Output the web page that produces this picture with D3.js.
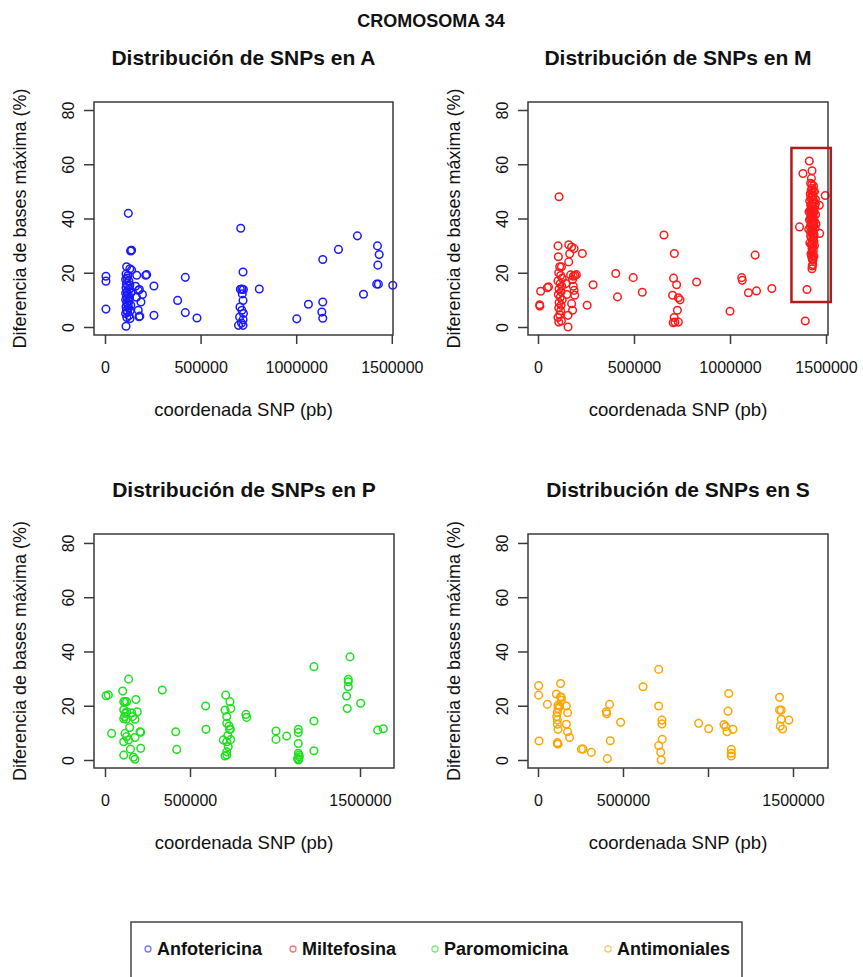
<!DOCTYPE html>
<html>
<head>
<meta charset="utf-8">
<script src="https://cdn.jsdelivr.net/npm/d3@7"></script>
<style>
  html, body { margin: 0; padding: 0; background: #fff; }
  svg { display: block; font-family: "Liberation Sans", Arial, Helvetica, sans-serif; }
</style>
</head>
<body>
<svg id="chart" width="863" height="977"></svg>
<script>
// ---------------- DATA ----------------
const mainTitle = "CROMOSOMA 34";
const panelTitles = ["Distribución de SNPs en A", "Distribución de SNPs en M", "Distribución de SNPs en P", "Distribución de SNPs en S"];
const seriesNames = ["Anfotericina", "Miltefosina", "Paromomicina", "Antimoniales"];
const seriesColors = ["#1a1aff", "#ff1a1a", "#1fe01f", "#ffa500"];
const xAxisTitle = "coordenada SNP (pb)";
const yAxisTitle = "Diferencia de bases máxima (%)";
const xTicks = [0, 500000, 1000000, 1500000];
const yTicks = [0, 20, 40, 60, 80];
// labels shown for x ticks (empty = label dropped by R because of overlap)
const xTickLabelsTop = ["0", "500000", "1000000", "1500000"];
const xTickLabelsBottom = ["0", "500000", "", "1500000"];
const yTickLabels = ["0", "20", "40", "60", "80"];

// [SNP coordinate (pb), max base difference (%)]
const anfotericina = [
  [5000,18.7],[5000,16.9],[5000,6.6],
  [122000,41.9],[137000,28.3],[139000,28.3],[134000,28.0],
  [113000,22.2],[130000,21.5],[139000,21.0],
  [110000,19.5],[120000,19.0],[108000,17.5],[125000,17.0],[112000,16.0],[118000,15.2],[110000,14.5],[128000,14.0],
  [115000,13.0],[108000,12.5],[122000,12.0],[112000,11.2],[118000,10.5],[108000,10.0],[126000,9.5],[114000,9.0],
  [120000,8.2],[110000,7.5],[124000,7.0],[112000,6.2],[118000,5.5],[108000,5.0],[126000,4.2],[114000,3.5],
  [110000,0.3],[131000,3.1],[135000,12.5],[135000,8.0],[130000,15.5],[116000,18.0],[128000,10.8],[132000,6.0],
  [166000,19.1],[213000,19.1],[218000,19.3],[174000,13.5],[180000,13.8],[196000,12.0],[188000,9.2],[182000,4.0],
  [178000,3.8],[174000,6.2],[165000,11.0],[160000,15.0],
  [256000,15.1],[256000,4.3],[380000,9.8],[420000,18.3],[420000,5.3],[481000,3.3],
  [710000,36.4],[722000,20.3],[708000,13.9],[716000,14.0],[724000,13.8],[718000,12.2],[722000,9.8],[706000,7.4],
  [716000,6.2],[724000,5.0],[704000,3.7],[722000,2.7],[698000,0.6],[722000,0.6],[714000,1.5],
  [807000,14.0],[1003000,3.0],[1064000,8.4],[1139000,24.9],[1139000,9.2],[1134000,5.5],[1139000,3.2],
  [1221000,28.6],[1320000,33.6],[1352000,12.1],[1425000,29.9],[1434000,26.7],[1427000,22.8],[1421000,15.8],
  [1430000,15.8],[1505000,15.4]
];
const miltefosina = [
  [8700,8.2],[9500,7.7],[13900,13.2],[48700,14.5],[55000,14.8],
  [109600,48.0],[104400,29.9],[106000,25.9],[113000,22.2],[122000,22.2],[108000,20.0],[118000,19.0],[126000,18.0],
  [104000,17.0],[115000,16.0],[124000,15.0],[110000,14.0],[120000,13.0],[106000,12.0],[116000,11.0],[126000,10.0],
  [110000,9.0],[120000,8.0],[108000,7.0],[118000,6.0],[113000,4.5],[104000,3.5],[108000,1.8],[122000,2.2],
  [156600,0.0],[156600,4.3],
  [160000,30.3],[175000,29.5],[188000,28.9],[165000,27.0],[160000,24.0],[170000,19.2],[184000,18.7],[193000,19.0],
  [200000,19.3],[180000,17.5],[184000,15.0],[188000,13.5],[191000,11.7],[175000,8.6],[180000,6.2],[145000,16.0],[150000,12.0],
  [231000,27.1],[256000,8.0],[287000,15.6],[405000,19.7],[414000,11.1],[496000,18.2],[543000,12.8],
  [656000,33.9],[710000,27.1],[706000,18.0],[701000,11.7],[722000,15.6],[731000,10.8],[740000,10.0],[726000,6.2],
  [709000,3.5],[713000,1.8],[731000,1.8],[704000,1.6],
  [826000,16.6],[1000000,5.8],[1061000,18.2],[1064000,17.2],[1096000,12.6],[1131000,26.5],[1138000,13.3],[1218000,14.2],
  [1362000,36.9],[1380000,56.6],[1392000,2.2],[1401000,13.8],[1413000,61.2],[1427000,57.6],[1424000,54.8],
  [1427000,21.5],[1432000,24.6],[1496000,48.5],[1465000,44.9],[1467000,34.5],
  [1420000,53],[1435000,52],[1428000,51],[1440000,50],[1418000,49],[1432000,48.5],[1425000,48],[1445000,47],
  [1415000,46.5],[1437000,46],[1428000,45.5],[1420000,45],[1442000,44.5],[1432000,44],[1424000,43.5],[1417000,43],
  [1438000,42.5],[1429000,42],[1446000,41.5],[1421000,41],[1434000,40.5],[1426000,40],[1414000,39.5],[1440000,39],
  [1430000,38.5],[1422000,38],[1436000,37.5],[1418000,37],[1443000,36.5],[1427000,36],[1433000,35.5],[1420000,35],
  [1438000,34],[1425000,33],[1430000,32],[1416000,31],[1440000,30],[1427000,29],[1434000,28],[1422000,27],
  [1437000,26],[1429000,25],[1431000,23],[1428000,22.5],[1445000,45.5],[1412000,42.5],[1448000,38],[1410000,36],
  [1423000,50.5],[1437000,31.5],
  [1426000,49.5],[1433000,47],[1421000,47.5],[1430000,46],[1424000,44.5],[1436000,43],[1427000,43],[1431000,41.5],
  [1419000,40],[1428000,39],[1435000,38.5],[1424000,37.5],[1431000,37],[1426000,35],[1432000,34],[1420000,33.5],
  [1435000,33],[1428000,31],[1424000,30.5],[1432000,29.5],[1429000,27.5],[1425000,26],[1433000,26.5],[1430000,44.5],
  [1427000,41],[1433000,40],[1422000,42],[1429000,48.5],[1434000,50],[1426000,52.5]
];
const paromomicina = [
  [5900,23.7],[19600,24.0],[39000,9.8],[104000,25.4],[139000,29.8],
  [110000,21.5],[118000,21.5],[127000,21.5],[110000,18.5],[120000,17.2],[127000,17.8],[110000,15.2],[125000,15.0],
  [115000,16.0],[157000,17.4],[163000,16.0],[176000,15.0],[182000,22.3],[190000,17.8],
  [118000,9.8],[127000,8.6],[110000,6.7],[139000,7.4],[176000,8.3],[206000,10.4],[210000,10.2],[210000,4.3],
  [110000,1.8],[167000,1.0],[176000,0.25],[150000,4.0],[145000,12.0],
  [337000,25.8],[416000,10.4],[422000,3.9],[592000,19.9],[594000,11.3],
  [710000,23.9],[735000,21.5],[740000,19.0],[706000,18.4],[716000,16.0],[716000,13.5],[733000,11.3],[737000,11.3],
  [696000,7.4],[716000,6.7],[739000,7.5],[725000,4.9],[716000,3.0],[706000,1.5],[716000,1.8],[730000,12.5],[722000,9.0],
  [829000,16.8],[833000,15.7],[1006000,10.7],[1006000,7.6],[1069000,8.8],[1137000,11.3],[1137000,10.1],[1137000,6.1],
  [1137000,2.5],[1143000,1.2],[1137000,0.0],[1141000,1.8],[1133000,0.6],[1139000,0.3],
  [1229000,34.4],[1229000,14.4],[1229000,3.4],[1425000,19.0],[1421000,23.6],[1431000,27.0],[1431000,28.8],
  [1431000,29.7],[1441000,38.0],[1504000,20.9],[1604000,11.0],[1637000,11.5]
];
const antimoniales = [
  [3900,27.4],[3900,23.9],[5900,7.0],[54900,20.5],[133000,28.2],[108000,24.3],[133000,23.3],[137000,23.0],
  [137000,22.0],[118000,20.2],[127000,19.8],[118000,19.0],[114000,17.5],[110000,16.0],[114000,14.7],[114000,13.2],
  [118000,11.3],[167000,19.9],[174000,17.4],[167000,13.2],[174000,10.4],[186000,8.3],[114000,6.4],[118000,5.9],
  [114000,6.0],[255000,4.0],[265000,4.0],[314000,2.8],[402000,17.8],[404000,17.0],[421000,20.5],[425000,7.1],
  [408000,0.5],[486000,13.9],[618000,27.0],[710000,33.4],[710000,19.9],[729000,14.7],[729000,13.3],[731000,7.6],
  [710000,5.3],[722000,2.8],[725000,0.0],[945000,13.5],[1004000,11.5],[1094000,13.1],[1104000,12.3],[1112000,10.4],
  [1122000,24.5],[1118000,18.0],[1147000,11.3],[1137000,3.9],[1137000,2.5],[1137000,1.5],[1421000,23.1],
  [1421000,18.4],[1431000,18.4],[1431000,15.0],[1476000,14.7],[1425000,12.5],[1439000,11.4]
];
const seriesData = [anfotericina, miltefosina, paromomicina, antimoniales];
// highlighted region in panel M: [x range (pb)], [y range (%)]
const highlightX = [1320000, 1525000];
const highlightY = [9.2, 66];

// ---------------- LAYOUT ----------------
const panels = [
  {box: [94, 102, 393, 335], xDom: [-57470, 1506300], yDom: [-2.95, 82.95], labels: xTickLabelsTop},
  {box: [528, 102, 828, 335], xDom: [-52080, 1510400], yDom: [-2.95, 82.95], labels: xTickLabelsTop},
  {box: [94, 534, 394, 768], xDom: [-64700, 1700000], yDom: [-2.95, 83.3], labels: xTickLabelsBottom},
  {box: [528, 534, 828, 768], xDom: [-58800, 1705900], yDom: [-2.95, 83.3], labels: xTickLabelsBottom}
];
const axisColor = "#3a3a3a";
const textColor = "#111";

const svg = d3.select("#chart");

svg.append("text")
  .attr("x", 431).attr("y", 27)
  .attr("text-anchor", "middle")
  .attr("font-size", 18).attr("font-weight", "bold").attr("fill", textColor)
  .text(mainTitle);

panels.forEach((p, i) => {
  const [x0, y0, x1, y1] = p.box;
  const x = d3.scaleLinear().domain(p.xDom).range([x0, x1]);
  const y = d3.scaleLinear().domain(p.yDom).range([y1, y0]);
  const g = svg.append("g");
  const cx = (x0 + x1) / 2;

  // title
  g.append("text")
    .attr("x", cx).attr("y", y0 - 37)
    .attr("text-anchor", "middle")
    .attr("font-size", 21).attr("font-weight", "bold").attr("fill", textColor)
    .text(panelTitles[i]);

  // points
  g.append("g").selectAll("circle")
    .data(seriesData[i]).join("circle")
    .attr("cx", d => x(d[0])).attr("cy", d => y(d[1]))
    .attr("r", 3.8)
    .attr("fill", "none")
    .attr("stroke", seriesColors[i])
    .attr("stroke-width", 1.5);

  // box
  g.append("rect")
    .attr("x", x0).attr("y", y0).attr("width", x1 - x0).attr("height", y1 - y0)
    .attr("fill", "none").attr("stroke", axisColor).attr("stroke-width", 1.5);

  // x axis
  const xa = g.append("g").attr("transform", `translate(0,${y1})`)
    .call(d3.axisBottom(x).tickValues(xTicks).tickSize(9).tickPadding(18)
      .tickFormat((d, k) => p.labels[k]));
  xa.select(".domain").remove();
  xa.selectAll(".tick line").attr("stroke", axisColor).attr("stroke-width", 1.5);
  xa.selectAll(".tick text").attr("font-size", 16).attr("fill", textColor)
    .attr("font-family", "Liberation Sans, Arial, sans-serif");

  // y axis
  const ya = g.append("g").attr("transform", `translate(${x0},0)`)
    .call(d3.axisLeft(y).tickValues(yTicks).tickSize(10).tickFormat((d, k) => yTickLabels[k]));
  ya.select(".domain").remove();
  ya.selectAll(".tick line").attr("stroke", axisColor).attr("stroke-width", 1.5);
  ya.selectAll(".tick text")
    .attr("font-size", 16).attr("fill", textColor)
    .attr("font-family", "Liberation Sans, Arial, sans-serif")
    .attr("x", null).attr("dy", null)
    .attr("text-anchor", "middle")
    .attr("transform", `translate(-20,0) rotate(-90)`);

  // axis titles
  g.append("text")
    .attr("x", cx).attr("y", y1 + 81)
    .attr("text-anchor", "middle")
    .attr("font-size", 18.5).attr("fill", textColor)
    .text(xAxisTitle);
  g.append("text")
    .attr("transform", `translate(${x0 - 68},${(y0 + y1) / 2}) rotate(-90)`)
    .attr("text-anchor", "middle")
    .attr("font-size", 18).attr("fill", textColor)
    .text(yAxisTitle);

  // highlight box in panel M
  if (i === 1) {
    g.append("rect")
      .attr("x", x(highlightX[0])).attr("y", y(highlightY[1]))
      .attr("width", x(highlightX[1]) - x(highlightX[0]))
      .attr("height", y(highlightY[0]) - y(highlightY[1]))
      .attr("fill", "none").attr("stroke", "#b01c1c").attr("stroke-width", 2.5);
  }
});

// legend
const legend = svg.append("g");
legend.append("rect")
  .attr("x", 131).attr("y", 922).attr("width", 611).attr("height", 70)
  .attr("fill", "none").attr("stroke", "#444").attr("stroke-width", 1.5);
const legendX = [148, 293, 435, 608];
seriesNames.forEach((name, k) => {
  legend.append("circle")
    .attr("cx", legendX[k]).attr("cy", 949).attr("r", 3)
    .attr("fill", "none").attr("stroke", seriesColors[k]).attr("stroke-width", 1.3).attr("stroke-opacity", 0.6);
  legend.append("text")
    .attr("x", legendX[k] + 9).attr("y", 955)
    .attr("font-size", 18).attr("font-weight", "bold").attr("fill", textColor)
    .text(name);
});
</script>
</body>
</html>
